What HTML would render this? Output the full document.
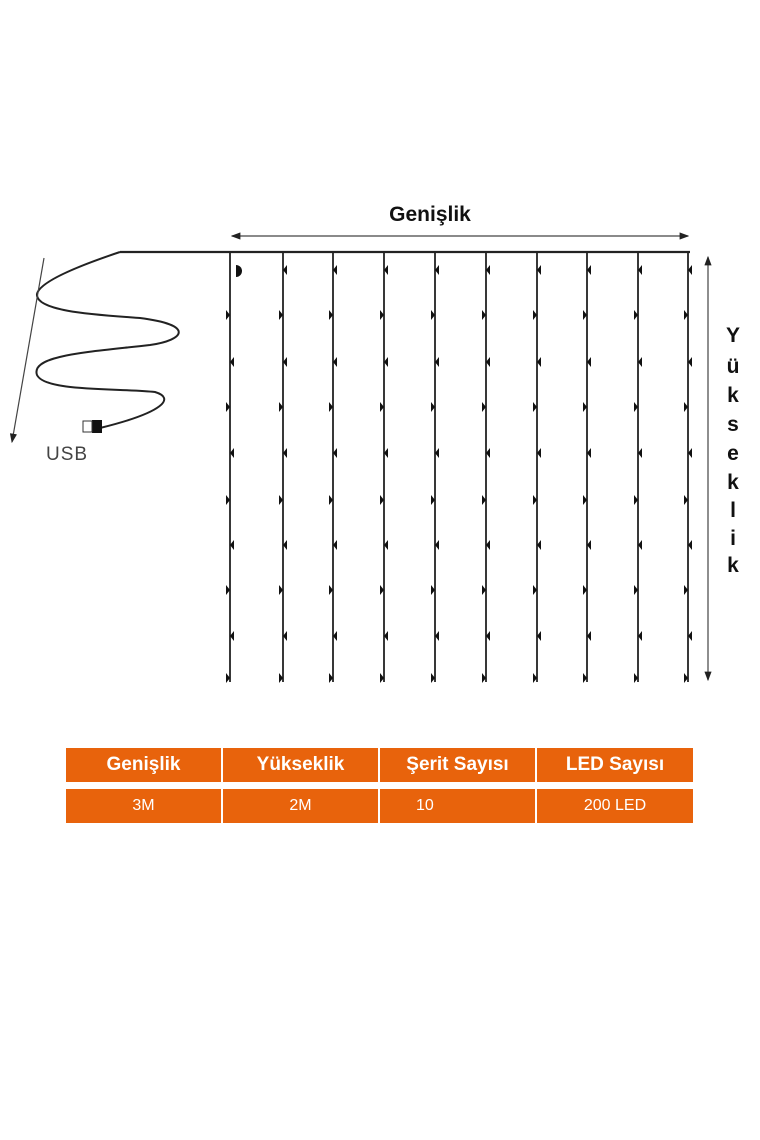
<!DOCTYPE html>
<html><head><meta charset="utf-8"><style>
html,body{margin:0;padding:0;background:#fff;}
body{width:760px;height:1140px;position:relative;overflow:hidden;font-family:"Liberation Sans",sans-serif;}
.t{position:absolute;left:66px;width:627px;}
.row{position:absolute;left:0;width:627px;height:34px;display:grid;grid-template-columns:155px 155px 155px 156px;column-gap:2px;}
.row div{background:#e8630c;color:#fff;display:flex;align-items:center;justify-content:center;}
.h div{font-weight:bold;font-size:19px;}
.b div{font-size:16px;}
</style></head><body>
<svg width="760" height="1140" style="position:absolute;left:0;top:0">
<defs>
<marker id="ar" markerWidth="8" markerHeight="6" refX="7" refY="3" orient="auto"><path d="M0,0 L8,3 L0,6 z" fill="#222"/></marker>
</defs>
<text x="430" y="221" text-anchor="middle" font-family="Liberation Sans" font-weight="bold" font-size="21" fill="#111">Genişlik</text>
<line x1="450" y1="236" x2="232" y2="236" stroke="#444" stroke-width="1.2" marker-end="url(#ar)"/>
<line x1="450" y1="236" x2="688" y2="236" stroke="#444" stroke-width="1.2" marker-end="url(#ar)"/>
<line x1="708" y1="470" x2="708" y2="257" stroke="#444" stroke-width="1.2" marker-end="url(#ar)"/>
<line x1="708" y1="470" x2="708" y2="680" stroke="#444" stroke-width="1.2" marker-end="url(#ar)"/>
<g font-family="Liberation Sans" font-weight="bold" font-size="21" fill="#111" text-anchor="middle">
<text x="733" y="342">Y</text><text x="733" y="373">ü</text><text x="733" y="402">k</text><text x="733" y="431">s</text><text x="733" y="460">e</text><text x="733" y="489">k</text><text x="733" y="517">l</text><text x="733" y="545">i</text><text x="733" y="572">k</text>
</g>
<path d="M120,252 L690,252" stroke="#222" stroke-width="2.2" fill="none"/>
<path d="M120,252 C90,262 40,280 37,294 C35,312 100,315 140,318 C195,325 185,340 150,345 C90,352 30,355 37,375 C45,392 120,388 155,392 C175,398 165,412 100,428" stroke="#222" stroke-width="2" fill="none"/>
<rect x="92" y="420" width="10" height="13" fill="#111"/>
<rect x="83" y="421" width="9" height="11" fill="#fff" stroke="#333" stroke-width="1"/>
<line x1="44" y1="258" x2="12" y2="442" stroke="#444" stroke-width="1.2" marker-end="url(#ar)"/>
<text x="46" y="460" font-family="Liberation Sans" font-size="19" fill="#444" letter-spacing="1">USB</text>
<g stroke="#222" stroke-width="1.8">
<line x1="230" y1="252" x2="230" y2="682"/><line x1="283" y1="252" x2="283" y2="682"/><line x1="333" y1="252" x2="333" y2="682"/><line x1="384" y1="252" x2="384" y2="682"/><line x1="435" y1="252" x2="435" y2="682"/><line x1="486" y1="252" x2="486" y2="682"/><line x1="537" y1="252" x2="537" y2="682"/><line x1="587" y1="252" x2="587" y2="682"/><line x1="638" y1="252" x2="638" y2="682"/><line x1="688" y1="252" x2="688" y2="682"/>
</g>
<path d="M236,265 a6,6 0 0 1 0,12 z" fill="#111"/>
<g fill="#111">
<g transform="translate(230,0)"><path d="M0,315 l-4,-5 v10 z"/><path d="M0,362 l4,-5 v10 z"/><path d="M0,407 l-4,-5 v10 z"/><path d="M0,453 l4,-5 v10 z"/><path d="M0,500 l-4,-5 v10 z"/><path d="M0,545 l4,-5 v10 z"/><path d="M0,590 l-4,-5 v10 z"/><path d="M0,636 l4,-5 v10 z"/><path d="M0,678 l-4,-5 v10 z"/></g>
<g transform="translate(283,0)"><path d="M0,270 l4,-5 v10 z"/><path d="M0,315 l-4,-5 v10 z"/><path d="M0,362 l4,-5 v10 z"/><path d="M0,407 l-4,-5 v10 z"/><path d="M0,453 l4,-5 v10 z"/><path d="M0,500 l-4,-5 v10 z"/><path d="M0,545 l4,-5 v10 z"/><path d="M0,590 l-4,-5 v10 z"/><path d="M0,636 l4,-5 v10 z"/><path d="M0,678 l-4,-5 v10 z"/></g>
<g transform="translate(333,0)"><path d="M0,270 l4,-5 v10 z"/><path d="M0,315 l-4,-5 v10 z"/><path d="M0,362 l4,-5 v10 z"/><path d="M0,407 l-4,-5 v10 z"/><path d="M0,453 l4,-5 v10 z"/><path d="M0,500 l-4,-5 v10 z"/><path d="M0,545 l4,-5 v10 z"/><path d="M0,590 l-4,-5 v10 z"/><path d="M0,636 l4,-5 v10 z"/><path d="M0,678 l-4,-5 v10 z"/></g>
<g transform="translate(384,0)"><path d="M0,270 l4,-5 v10 z"/><path d="M0,315 l-4,-5 v10 z"/><path d="M0,362 l4,-5 v10 z"/><path d="M0,407 l-4,-5 v10 z"/><path d="M0,453 l4,-5 v10 z"/><path d="M0,500 l-4,-5 v10 z"/><path d="M0,545 l4,-5 v10 z"/><path d="M0,590 l-4,-5 v10 z"/><path d="M0,636 l4,-5 v10 z"/><path d="M0,678 l-4,-5 v10 z"/></g>
<g transform="translate(435,0)"><path d="M0,270 l4,-5 v10 z"/><path d="M0,315 l-4,-5 v10 z"/><path d="M0,362 l4,-5 v10 z"/><path d="M0,407 l-4,-5 v10 z"/><path d="M0,453 l4,-5 v10 z"/><path d="M0,500 l-4,-5 v10 z"/><path d="M0,545 l4,-5 v10 z"/><path d="M0,590 l-4,-5 v10 z"/><path d="M0,636 l4,-5 v10 z"/><path d="M0,678 l-4,-5 v10 z"/></g>
<g transform="translate(486,0)"><path d="M0,270 l4,-5 v10 z"/><path d="M0,315 l-4,-5 v10 z"/><path d="M0,362 l4,-5 v10 z"/><path d="M0,407 l-4,-5 v10 z"/><path d="M0,453 l4,-5 v10 z"/><path d="M0,500 l-4,-5 v10 z"/><path d="M0,545 l4,-5 v10 z"/><path d="M0,590 l-4,-5 v10 z"/><path d="M0,636 l4,-5 v10 z"/><path d="M0,678 l-4,-5 v10 z"/></g>
<g transform="translate(537,0)"><path d="M0,270 l4,-5 v10 z"/><path d="M0,315 l-4,-5 v10 z"/><path d="M0,362 l4,-5 v10 z"/><path d="M0,407 l-4,-5 v10 z"/><path d="M0,453 l4,-5 v10 z"/><path d="M0,500 l-4,-5 v10 z"/><path d="M0,545 l4,-5 v10 z"/><path d="M0,590 l-4,-5 v10 z"/><path d="M0,636 l4,-5 v10 z"/><path d="M0,678 l-4,-5 v10 z"/></g>
<g transform="translate(587,0)"><path d="M0,270 l4,-5 v10 z"/><path d="M0,315 l-4,-5 v10 z"/><path d="M0,362 l4,-5 v10 z"/><path d="M0,407 l-4,-5 v10 z"/><path d="M0,453 l4,-5 v10 z"/><path d="M0,500 l-4,-5 v10 z"/><path d="M0,545 l4,-5 v10 z"/><path d="M0,590 l-4,-5 v10 z"/><path d="M0,636 l4,-5 v10 z"/><path d="M0,678 l-4,-5 v10 z"/></g>
<g transform="translate(638,0)"><path d="M0,270 l4,-5 v10 z"/><path d="M0,315 l-4,-5 v10 z"/><path d="M0,362 l4,-5 v10 z"/><path d="M0,407 l-4,-5 v10 z"/><path d="M0,453 l4,-5 v10 z"/><path d="M0,500 l-4,-5 v10 z"/><path d="M0,545 l4,-5 v10 z"/><path d="M0,590 l-4,-5 v10 z"/><path d="M0,636 l4,-5 v10 z"/><path d="M0,678 l-4,-5 v10 z"/></g>
<g transform="translate(688,0)"><path d="M0,270 l4,-5 v10 z"/><path d="M0,315 l-4,-5 v10 z"/><path d="M0,362 l4,-5 v10 z"/><path d="M0,407 l-4,-5 v10 z"/><path d="M0,453 l4,-5 v10 z"/><path d="M0,500 l-4,-5 v10 z"/><path d="M0,545 l4,-5 v10 z"/><path d="M0,590 l-4,-5 v10 z"/><path d="M0,636 l4,-5 v10 z"/><path d="M0,678 l-4,-5 v10 z"/></g>
</g>
</svg>
<div class="t" style="top:748px;height:80px;">
<div class="row h" style="top:0"><div>Genişlik</div><div>Yükseklik</div><div>Şerit Sayısı</div><div>LED Sayısı</div></div>
<div class="row b" style="top:41px"><div>3M</div><div>2M</div><div style="justify-content:flex-start;padding-left:36px">10</div><div>200 LED</div></div>
</div>
</body></html>
